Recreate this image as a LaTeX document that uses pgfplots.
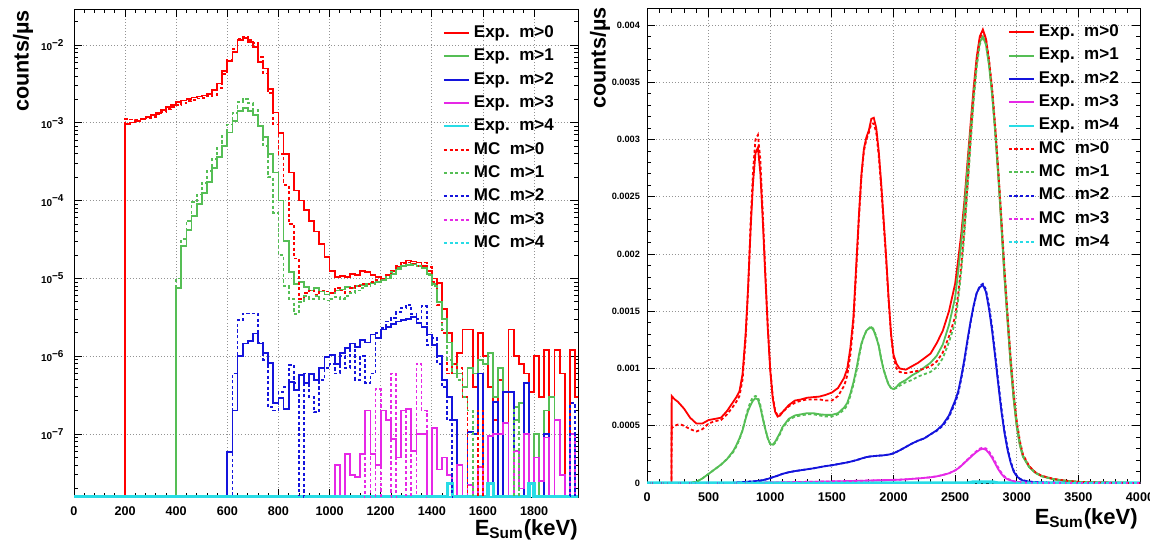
\documentclass[border=0pt]{standalone}
\usepackage{fontspec}
\setmainfont{Liberation Sans}
\usepackage{pgfplots}
\usepackage{pgfplotstable}
\pgfplotsset{compat=1.18}
\definecolor{redc}{RGB}{255,0,0}
\definecolor{greenc}{RGB}{85,190,85}
\definecolor{bluec}{RGB}{20,20,220}
\definecolor{magc}{RGB}{230,40,230}
\definecolor{cyanc}{RGB}{40,220,230}

% left panel: 20 keV bins, counts/us (1e-10 = empty bin)
\pgfplotstableread{
E rE rM gE gM bE bM mE mM
0 1e-10 1e-10 1e-10 1e-10 1e-10 1e-10 1e-10 1e-10
200 9.6e-4 1.12e-3 1e-10 1e-10 1e-10 1e-10 1e-10 1e-10
220 1.01e-3 1.10e-3 1e-10 1e-10 1e-10 1e-10 1e-10 1e-10
240 1.06e-3 1.08e-3 1e-10 1e-10 1e-10 1e-10 1e-10 1e-10
260 1.12e-3 1.10e-3 1e-10 1e-10 1e-10 1e-10 1e-10 1e-10
280 1.18e-3 1.15e-3 1e-10 1e-10 1e-10 1e-10 1e-10 1e-10
300 1.26e-3 1.20e-3 1e-10 1e-10 1e-10 1e-10 1e-10 1e-10
320 1.35e-3 1.28e-3 1e-10 1e-10 1e-10 1e-10 1e-10 1e-10
340 1.46e-3 1.37e-3 1e-10 1e-10 1e-10 1e-10 1e-10 1e-10
360 1.58e-3 1.50e-3 1e-10 1e-10 1e-10 1e-10 1e-10 1e-10
380 1.70e-3 1.60e-3 1e-10 1e-10 1e-10 1e-10 1e-10 1e-10
400 1.83e-3 1.70e-3 7.5e-6 1.0e-5 1e-10 1e-10 1e-10 1e-10
420 1.94e-3 1.80e-3 2.6e-5 3.2e-5 1e-10 1e-10 1e-10 1e-10
440 2.03e-3 1.90e-3 4.2e-5 5.5e-5 1e-10 1e-10 1e-10 1e-10
460 2.11e-3 1.97e-3 6.3e-5 9.5e-5 1e-10 1e-10 1e-10 1e-10
480 2.18e-3 2.05e-3 9.0e-5 1.2e-4 1e-10 1e-10 1e-10 1e-10
500 2.24e-3 2.10e-3 1.25e-4 1.7e-4 1e-10 1e-10 1e-10 1e-10
520 2.33e-3 2.20e-3 1.75e-4 2.4e-4 1e-10 1e-10 1e-10 1e-10
540 2.65e-3 2.30e-3 2.6e-4 3.4e-4 1e-10 1e-10 1e-10 1e-10
560 3.2e-3 2.8e-3 3.6e-4 4.8e-4 1e-10 1e-10 1e-10 1e-10
580 4.6e-3 4.2e-3 5.0e-4 6.8e-4 1e-10 1e-10 1e-10 1e-10
600 6.2e-3 6.5e-3 7.5e-4 9.5e-4 5.9e-8 1e-10 1e-10 1e-10
620 8.2e-3 8.8e-3 1.05e-3 1.35e-3 2.0e-7 6e-7 1e-10 1e-10
640 1.15e-2 1.2e-2 1.42e-3 1.85e-3 1.0e-6 2.9e-6 1e-10 1e-10
660 1.22e-2 1.28e-2 1.55e-3 2.0e-3 1.46e-6 3.55e-6 1e-10 1e-10
680 1.10e-2 1.15e-2 1.42e-3 1.8e-3 1.57e-6 3.55e-6 1e-10 1e-10
700 9.5e-3 1.05e-2 1.25e-3 1.45e-3 1.96e-6 3.55e-6 1e-10 1e-10
720 6.1e-3 7.0e-3 9.0e-4 9.0e-4 1.46e-6 1.5e-6 1e-10 1e-10
740 5.0e-3 4.3e-3 6.5e-4 5.0e-4 1.1e-6 9e-7 1e-10 1e-10
760 2.7e-3 2.4e-3 4.0e-4 2.0e-4 8.1e-7 2.2e-7 1e-10 1e-10
780 1.36e-3 9.5e-4 2.3e-4 7e-5 2.5e-7 2.0e-7 1e-10 1e-10
800 7.4e-4 4.0e-4 1.0e-4 2.0e-5 2.9e-7 3.5e-7 1e-10 1e-10
820 4.0e-4 1.6e-4 3.0e-5 8e-6 2.1e-7 4e-7 1e-10 1e-10
840 2.3e-4 5e-5 1.2e-5 5.5e-6 4.7e-7 7.7e-7 1e-10 1e-10
860 1.35e-4 1.8e-5 8.5e-6 3.5e-6 3.7e-7 4.5e-7 1e-10 1e-10
880 1.0e-4 5.5e-6 9.0e-6 5e-6 5.7e-7 1e-10 1e-10 1e-10
900 7.5e-5 6.5e-6 7.8e-6 6e-6 4.5e-7 6e-7 1e-10 1e-10
920 5.5e-5 7e-6 7.0e-6 5.5e-6 5.9e-7 3e-7 1e-10 1e-10
940 4.0e-5 6.2e-6 7.5e-6 6e-6 5.0e-7 1.9e-7 1e-10 1e-10
960 2.8e-5 7e-6 6.8e-6 5.5e-6 7.0e-7 5e-7 1e-10 1e-10
980 1.9e-5 6.8e-6 6.2e-6 5.2e-6 9.8e-7 7e-7 1e-10 1e-10
1000 1.25e-5 6.5e-6 6.5e-6 5.5e-6 1.03e-6 8e-7 1e-10 1e-10
1020 1.05e-5 7.5e-6 7.0e-6 5.8e-6 8.0e-7 6e-7 4e-8 1e-10
1040 1.08e-5 7e-6 7.2e-6 5.5e-6 1.1e-6 1.0e-6 1e-10 1e-10
1060 1.04e-5 6.5e-6 7.8e-6 6e-6 1.26e-6 7e-7 5.5e-8 1e-10
1080 1.15e-5 7.5e-6 7.5e-6 6.5e-6 1.46e-6 1.2e-6 3e-8 1e-10
1100 1.1e-5 8e-6 8.0e-6 7e-6 1.3e-6 5e-7 2.8e-8 1e-10
1120 1.25e-5 8.5e-6 8.3e-6 7.5e-6 1.6e-6 1.0e-6 5.5e-8 1e-10
1140 1.2e-5 8.5e-6 8.5e-6 8e-6 1.5e-6 4.5e-7 2.0e-7 2e-7
1160 1.1e-5 9e-6 8.8e-6 8.5e-6 1.9e-6 6e-7 5.5e-8 1e-10
1180 1.05e-5 9.5e-6 9.0e-6 9e-6 1.7e-6 2.0e-6 4e-8 3.8e-7
1200 1.0e-5 1.0e-5 9.5e-6 9.5e-6 2.2e-6 2.3e-6 2.0e-7 1e-10
1220 1.1e-5 1.1e-5 1.0e-5 1.05e-5 2.4e-6 2.8e-6 1.5e-7 1e-10
1240 1.25e-5 1.25e-5 1.15e-5 1.2e-5 2.6e-6 3.1e-6 8.6e-8 6e-7
1260 1.4e-5 1.45e-5 1.3e-5 1.35e-5 2.8e-6 3.7e-6 5e-8 1e-10
1280 1.6e-5 1.55e-5 1.45e-5 1.45e-5 2.9e-6 4.2e-6 2.0e-7 1e-10
1300 1.7e-5 1.6e-5 1.5e-5 1.5e-5 3.0e-6 4.6e-6 2.1e-7 2e-7
1320 1.65e-5 1.55e-5 1.52e-5 1.5e-5 3.2e-6 3.5e-6 6e-8 1e-10
1340 1.6e-5 1.45e-5 1.45e-5 1.45e-5 2.7e-6 3.0e-6 1.0e-7 8e-7
1360 1.45e-5 1.6e-5 1.35e-5 1.35e-5 2.4e-6 4.4e-6 1.0e-7 2e-7
1380 1.25e-5 1.4e-5 1.15e-5 1.1e-5 1.9e-6 1.4e-6 1e-10 1e-10
1400 1.0e-5 9e-6 8.5e-6 8e-6 1.4e-6 1.7e-6 1.2e-7 1e-10
1420 8.8e-6 4.5e-6 5.0e-6 5e-6 1.0e-6 8e-7 3.5e-8 1e-10
1440 4.0e-6 2.0e-6 3.0e-6 2.2e-6 5e-7 4e-7 5e-8 1e-10
1460 2.0e-6 6e-7 1.5e-6 9e-7 3e-7 1.5e-7 3e-8 1e-10
1480 6e-7 8e-7 8e-7 6e-7 1.5e-7 1e-10 1e-10 1e-10
1500 1.1e-6 7e-7 6e-7 5e-7 1e-10 1e-10 4e-8 1e-10
1520 2.2e-6 3e-7 4e-7 3e-7 1e-10 1e-10 1e-10 1e-10
1540 2.2e-6 1e-10 7e-7 2e-7 1.05e-7 1e-10 2.2e-8 1e-10
1560 4e-7 1e-10 6e-7 1e-10 1e-7 1e-10 1e-10 1e-10
1580 2.0e-6 2e-7 9e-7 1e-10 6e-7 1e-10 3.8e-8 1e-10
1600 1.0e-6 1e-10 8e-7 1e-10 1e-10 1e-10 1e-10 1e-10
1620 4e-7 1e-10 1.1e-6 1e-10 1e-10 1e-10 9.5e-8 1e-10
1640 1.5e-7 1e-10 3e-7 1e-10 2.6e-7 1e-10 1e-7 1e-10
1660 5e-7 1e-10 7e-7 1e-10 1e-10 1e-10 1e-7 1e-10
1680 1e-10 1e-10 1e-10 1e-10 3.5e-7 1e-10 1.4e-7 1e-10
1700 2.2e-6 1e-10 1e-10 1e-10 3.5e-7 1e-10 1e-10 1e-10
1720 1.0e-6 1e-10 1.5e-7 2.2e-7 1e-10 1e-10 6e-8 1e-10
1740 8e-7 1e-10 2.5e-7 1e-10 1e-10 1e-10 2e-8 1e-10
1760 6e-7 1e-10 1e-10 1e-10 4.5e-7 1e-10 1e-7 1e-10
1780 3.5e-7 1e-10 1e-10 1e-10 1e-10 1e-10 1e-10 1e-10
1800 1.0e-6 1e-10 1e-7 1e-10 1e-10 1e-10 5e-8 1e-10
1820 3e-7 1e-10 1e-10 1e-10 1e-10 1e-10 2.5e-8 1e-10
1840 1.2e-6 1e-10 2e-7 1e-10 1e-7 1e-10 9e-8 1e-10
1860 1e-10 1e-10 3e-7 1e-10 1e-10 1e-10 1e-10 1e-10
1880 1.2e-6 1e-10 1e-10 1e-10 1e-10 1e-10 1.5e-7 1e-10
1900 6e-7 1e-10 1e-10 1e-10 1e-10 1e-10 3e-8 1e-10
1920 1e-10 1e-10 1e-10 1e-10 1e-10 1e-10 1e-10 1e-10
1940 1.2e-6 1e-10 1e-10 1e-10 1e-10 2.5e-7 1e-7 1e-10
1960 3e-7 1e-10 1e-10 1e-10 1e-10 1e-10 1e-10 1e-10
1980 1e-10 1e-10 1e-10 1e-10 1e-10 1e-10 1e-10 1e-10
}\leftdata

% right panel: counts/us in units of 1e-3
\pgfplotstableread{
E rE rM gE gM bE bM mE mM
0 0 0 0 0 0 0 0 0
199 0 0 0 0 0 0 0 0
200 0.76 0.48 0 0 0 0 0 0
225 0.73 0.50 0 0 0 0 0 0
250 0.71 0.51 0 0 0 0 0 0
275 0.68 0.51 0 0 0 0 0 0
300 0.65 0.50 0 0 0 0 0 0
350 0.57 0.47 0 0 0 0 0 0
400 0.52 0.45 0.01 0.01 0 0 0 0
450 0.52 0.47 0.04 0.04 0 0 0 0
500 0.55 0.52 0.08 0.08 0 0 0 0
550 0.56 0.54 0.12 0.12 0 0 0 0
600 0.57 0.55 0.16 0.16 0 0 0 0
650 0.63 0.60 0.21 0.21 0 0 0 0
700 0.71 0.67 0.28 0.27 0.001 0.001 0 0
725 0.75 0.71 0.33 0.32 0.003 0.003 0 0
750 0.80 0.76 0.39 0.38 0.005 0.005 0 0
775 0.95 0.90 0.46 0.46 0.007 0.007 0 0
800 1.30 1.25 0.56 0.57 0.010 0.010 0 0
820 1.70 1.68 0.63 0.65 0.011 0.011 0 0
840 2.20 2.25 0.68 0.71 0.013 0.013 0 0
860 2.62 2.72 0.72 0.75 0.014 0.015 0 0
880 2.88 3.00 0.74 0.76 0.016 0.016 0.001 0.001
900 2.93 3.04 0.73 0.75 0.018 0.018 0.002 0.002
920 2.70 2.82 0.66 0.68 0.021 0.021 0.002 0.002
940 2.28 2.35 0.56 0.57 0.025 0.025 0.003 0.003
960 1.80 1.85 0.47 0.47 0.030 0.030 0.003 0.003
980 1.35 1.38 0.39 0.39 0.036 0.036 0.004 0.004
1000 0.98 1.00 0.34 0.34 0.043 0.043 0.004 0.004
1020 0.74 0.76 0.335 0.33 0.050 0.050 0.004 0.004
1040 0.62 0.63 0.36 0.35 0.057 0.057 0.005 0.005
1060 0.58 0.59 0.40 0.39 0.064 0.064 0.005 0.005
1080 0.59 0.60 0.44 0.43 0.072 0.072 0.005 0.005
1100 0.62 0.62 0.49 0.48 0.080 0.080 0.006 0.006
1150 0.68 0.67 0.56 0.55 0.094 0.094 0.007 0.007
1200 0.72 0.70 0.59 0.58 0.104 0.104 0.008 0.008
1250 0.73 0.72 0.60 0.59 0.112 0.112 0.009 0.009
1300 0.745 0.73 0.61 0.60 0.120 0.120 0.010 0.010
1350 0.75 0.73 0.61 0.60 0.128 0.128 0.011 0.011
1400 0.755 0.73 0.60 0.59 0.138 0.138 0.012 0.012
1450 0.77 0.72 0.595 0.58 0.148 0.148 0.013 0.013
1500 0.79 0.72 0.595 0.58 0.155 0.155 0.014 0.014
1550 0.83 0.76 0.61 0.60 0.165 0.165 0.015 0.015
1600 0.92 0.85 0.66 0.64 0.175 0.175 0.016 0.016
1625 1.00 0.94 0.70 0.68 0.180 0.180 0.017 0.017
1650 1.18 1.12 0.78 0.76 0.186 0.186 0.017 0.017
1675 1.45 1.40 0.88 0.86 0.193 0.193 0.018 0.018
1700 1.95 1.90 1.00 0.98 0.200 0.200 0.019 0.019
1720 2.35 2.32 1.12 1.10 0.207 0.207 0.019 0.019
1740 2.70 2.68 1.22 1.21 0.214 0.214 0.020 0.020
1760 2.92 2.90 1.28 1.28 0.220 0.220 0.020 0.020
1780 3.02 3.00 1.33 1.33 0.226 0.226 0.021 0.021
1800 3.08 3.06 1.35 1.35 0.230 0.230 0.022 0.022
1820 3.18 3.14 1.36 1.37 0.233 0.233 0.022 0.022
1840 3.19 3.14 1.33 1.34 0.235 0.235 0.023 0.023
1860 3.10 3.06 1.27 1.28 0.237 0.237 0.023 0.023
1880 2.90 2.86 1.20 1.20 0.239 0.239 0.024 0.024
1900 2.62 2.58 1.08 1.09 0.240 0.240 0.024 0.024
1920 2.30 2.27 0.99 0.99 0.242 0.242 0.025 0.025
1940 1.98 1.95 0.92 0.92 0.245 0.245 0.025 0.025
1960 1.62 1.60 0.86 0.86 0.248 0.248 0.026 0.026
1980 1.30 1.30 0.83 0.83 0.253 0.253 0.026 0.026
2000 1.12 1.10 0.82 0.82 0.260 0.260 0.027 0.027
2025 1.04 1.00 0.84 0.83 0.272 0.272 0.028 0.028
2050 1.00 0.97 0.87 0.85 0.285 0.285 0.029 0.029
2100 0.99 0.96 0.90 0.88 0.315 0.315 0.032 0.032
2150 1.02 0.97 0.94 0.90 0.345 0.345 0.036 0.036
2200 1.05 0.98 0.97 0.93 0.370 0.370 0.040 0.040
2250 1.09 1.00 1.01 0.95 0.390 0.390 0.045 0.045
2300 1.13 1.02 1.05 0.97 0.425 0.425 0.050 0.050
2350 1.22 1.06 1.11 1.01 0.460 0.455 0.058 0.058
2400 1.33 1.14 1.21 1.09 0.510 0.500 0.070 0.070
2450 1.50 1.28 1.38 1.23 0.590 0.575 0.085 0.085
2500 1.74 1.45 1.62 1.40 0.720 0.700 0.110 0.110
2525 1.95 1.65 1.85 1.60 0.800 0.780 0.128 0.130
2550 2.18 1.90 2.10 1.85 0.930 0.910 0.150 0.152
2575 2.46 2.22 2.40 2.17 1.080 1.060 0.175 0.178
2600 2.80 2.60 2.75 2.55 1.250 1.230 0.200 0.205
2625 3.13 3.00 3.08 2.95 1.410 1.400 0.225 0.230
2650 3.45 3.38 3.40 3.33 1.550 1.540 0.250 0.256
2675 3.72 3.68 3.67 3.63 1.660 1.660 0.272 0.280
2700 3.90 3.88 3.85 3.83 1.710 1.720 0.290 0.300
2725 3.96 3.95 3.90 3.90 1.730 1.740 0.300 0.310
2750 3.88 3.88 3.83 3.83 1.670 1.690 0.290 0.302
2775 3.68 3.70 3.65 3.66 1.520 1.550 0.260 0.275
2800 3.42 3.45 3.39 3.42 1.330 1.360 0.220 0.235
2825 3.09 3.12 3.06 3.09 1.100 1.130 0.170 0.185
2850 2.70 2.74 2.68 2.72 0.860 0.890 0.120 0.135
2875 2.27 2.32 2.25 2.30 0.630 0.660 0.080 0.090
2900 1.82 1.88 1.80 1.86 0.440 0.460 0.050 0.058
2925 1.43 1.48 1.42 1.47 0.290 0.310 0.033 0.038
2950 1.05 1.10 1.04 1.09 0.180 0.190 0.022 0.025
2975 0.74 0.79 0.73 0.78 0.100 0.110 0.015 0.016
3000 0.50 0.54 0.49 0.53 0.060 0.065 0.010 0.010
3025 0.34 0.37 0.33 0.36 0.035 0.038 0.007 0.007
3050 0.235 0.25 0.23 0.24 0.022 0.024 0.004 0.004
3100 0.145 0.15 0.14 0.14 0.012 0.013 0.002 0.002
3150 0.092 0.095 0.09 0.09 0.007 0.007 0.001 0.001
3200 0.062 0.064 0.06 0.06 0.004 0.004 0 0
3300 0.034 0.035 0.032 0.033 0.002 0.002 0 0
3400 0.019 0.020 0.018 0.019 0.001 0.001 0 0
3500 0.010 0.010 0.010 0.010 0 0 0 0
3600 0.006 0.006 0.006 0.006 0 0 0 0
3800 0.002 0.002 0.002 0.002 0 0 0 0
4000 0 0 0 0 0 0 0 0
}\rightdata

\pgfplotsset{
  rootstyle/.style={
    scale only axis, anchor=south west,
    /pgf/number format/1000 sep={},
    /pgf/number format/assume math mode=true,
    grid=major,
    major grid style={line width=0.4pt, gray!85, dash pattern=on 0.45pt off 1.1pt},
    tick align=inside,
    major tick length=4pt, minor tick length=2pt,
    every tick/.style={black, line width=0.4pt},
    axis line style={line width=0.5pt},
    tick label style={font=\bfseries\fontsize{6.3}{7}\selectfont},
    xticklabel style={yshift=-1.5pt},
    legend cell align=left,
    legend image post style={line width=1pt},
    legend image code/.code={\draw[##1] (0pt,0pt) -- (12.5pt,0pt);},
    legend style={draw=none, fill=none, anchor=north west, inner sep=0pt, outer sep=0pt,
      row sep=3.67pt, column sep=2pt,
      font=\bfseries\fontsize{8.5}{9}\selectfont,
      nodes={inner sep=0pt, text height=6.2pt, text depth=1.8pt}},
  },
  exp/.style={line width=0.9pt},
  mc/.style={line width=0.9pt, dash pattern=on 1.6pt off 1.2pt},
}

\begin{document}
\begin{tikzpicture}
\useasboundingbox (0,0) rectangle (575pt,273.5pt);

% ---------------- left panel (log) ----------------
\begin{axis}[rootstyle,
  at={(37pt,25pt)}, width=252pt, height=244pt,
  xmin=0, xmax=1972, ymode=log, ymin=1.55e-8, ymax=0.029,
  xtick={0,200,...,1800}, minor x tick num=4,
  ytick={1e-7,1e-6,1e-5,1e-4,1e-3,1e-2},
  yticklabels={10\textsuperscript{−7},10\textsuperscript{−6},10\textsuperscript{−5},10\textsuperscript{−4},10\textsuperscript{−3},10\textsuperscript{−2}},
  minor ytick={2e-8,3e-8,4e-8,5e-8,6e-8,7e-8,8e-8,9e-8,
    2e-7,3e-7,4e-7,5e-7,6e-7,7e-7,8e-7,9e-7,
    2e-6,3e-6,4e-6,5e-6,6e-6,7e-6,8e-6,9e-6,
    2e-5,3e-5,4e-5,5e-5,6e-5,7e-5,8e-5,9e-5,
    2e-4,3e-4,4e-4,5e-4,6e-4,7e-4,8e-4,9e-4,
    2e-3,3e-3,4e-3,5e-3,6e-3,7e-3,8e-3,9e-3,2e-2},
  yticklabel style={font=\bfseries\fontsize{5}{6}\selectfont, xshift=-1.2pt},
  legend style={at={(0.732,0.967)}},
]
\addplot[redc, exp, const plot mark left] table[x=E,y=rE]{\leftdata};
\addlegendentry{Exp.\ \ m>0}
\addplot[greenc, exp, const plot mark left] table[x=E,y=gE]{\leftdata};
\addlegendentry{Exp.\ \ m>1}
\addplot[bluec, exp, const plot mark left] table[x=E,y=bE]{\leftdata};
\addlegendentry{Exp.\ \ m>2}
\addplot[magc, exp, const plot mark left] table[x=E,y=mE]{\leftdata};
\addlegendentry{Exp.\ \ m>3}
\addplot[cyanc, line width=1.6pt, const plot mark left] coordinates {(0,1.55e-8) (1460,2.3e-8) (1480,1.55e-8) (1620,2.3e-8) (1640,1.55e-8) (1780,2.3e-8) (1800,1.55e-8) (1980,1.55e-8)};
\addlegendentry{Exp.\ \ m>4}
\addplot[redc, mc, const plot mark left] table[x=E,y=rM]{\leftdata};
\addlegendentry{MC\ \ m>0}
\addplot[greenc, mc, const plot mark left] table[x=E,y=gM]{\leftdata};
\addlegendentry{MC\ \ m>1}
\addplot[bluec, mc, const plot mark left] table[x=E,y=bM]{\leftdata};
\addlegendentry{MC\ \ m>2}
\addplot[magc, mc, const plot mark left] table[x=E,y=mM]{\leftdata};
\addlegendentry{MC\ \ m>3}
\addplot[cyanc, mc, line width=1.2pt, const plot mark left] coordinates {(0,1.55e-8) (1980,1.55e-8)};
\addlegendentry{MC\ \ m>4}
\end{axis}

% ---------------- right panel (linear) ----------------
\begin{axis}[rootstyle,
  at={(323.5pt,32pt)}, width=246.5pt, height=237pt,
  xmin=0, xmax=4000, ymin=0, ymax=4.14,
  xtick={0,500,...,4000}, minor x tick num=4,
  ytick={0,0.5,1,1.5,2,2.5,3,3.5,4},
  yticklabels={0,0.0005,0.001,0.0015,0.002,0.0025,0.003,0.0035,0.004},
  minor y tick num=4,
  yticklabel style={font=\bfseries\fontsize{4.6}{5.5}\selectfont},
  legend style={at={(0.732,0.968)}},
]
\addplot[redc, exp] table[x=E,y=rE]{\rightdata};
\addlegendentry{Exp.\ \ m>0}
\addplot[greenc, exp] table[x=E,y=gE]{\rightdata};
\addlegendentry{Exp.\ \ m>1}
\addplot[bluec, exp] table[x=E,y=bE]{\rightdata};
\addlegendentry{Exp.\ \ m>2}
\addplot[magc, exp] table[x=E,y=mE]{\rightdata};
\addlegendentry{Exp.\ \ m>3}
\addplot[cyanc, line width=1.6pt] coordinates {(0,0) (2600,0) (2650,0.01) (2800,0.01) (2850,0) (4000,0)};
\addlegendentry{Exp.\ \ m>4}
\addplot[redc, mc] table[x=E,y=rM]{\rightdata};
\addlegendentry{MC\ \ m>0}
\addplot[greenc, mc] table[x=E,y=gM]{\rightdata};
\addlegendentry{MC\ \ m>1}
\addplot[bluec, mc] table[x=E,y=bM]{\rightdata};
\addlegendentry{MC\ \ m>2}
\addplot[magc, mc] table[x=E,y=mM]{\rightdata};
\addlegendentry{MC\ \ m>3}
\addplot[cyanc, mc, line width=1.2pt] coordinates {(0,0) (4000,0)};
\addlegendentry{MC\ \ m>4}
\end{axis}

% axis titles
\node[rotate=90, anchor=east, font=\bfseries\fontsize{10.8}{12}\selectfont, inner sep=0pt] at (11.5pt,268.5pt) {counts/µs};
\node[rotate=90, anchor=east, font=\bfseries\fontsize{10.8}{12}\selectfont, inner sep=0pt] at (300pt,270pt) {counts/µs};
\node[anchor=east, font=\bfseries\fontsize{11}{12}\selectfont, inner sep=0pt] at (289pt,8.5pt) {E\textsubscript{Sum}(keV)};
\node[anchor=east, font=\bfseries\fontsize{11}{12}\selectfont, inner sep=0pt] at (569pt,14pt) {E\textsubscript{Sum}(keV)};
\end{tikzpicture}
\end{document}
